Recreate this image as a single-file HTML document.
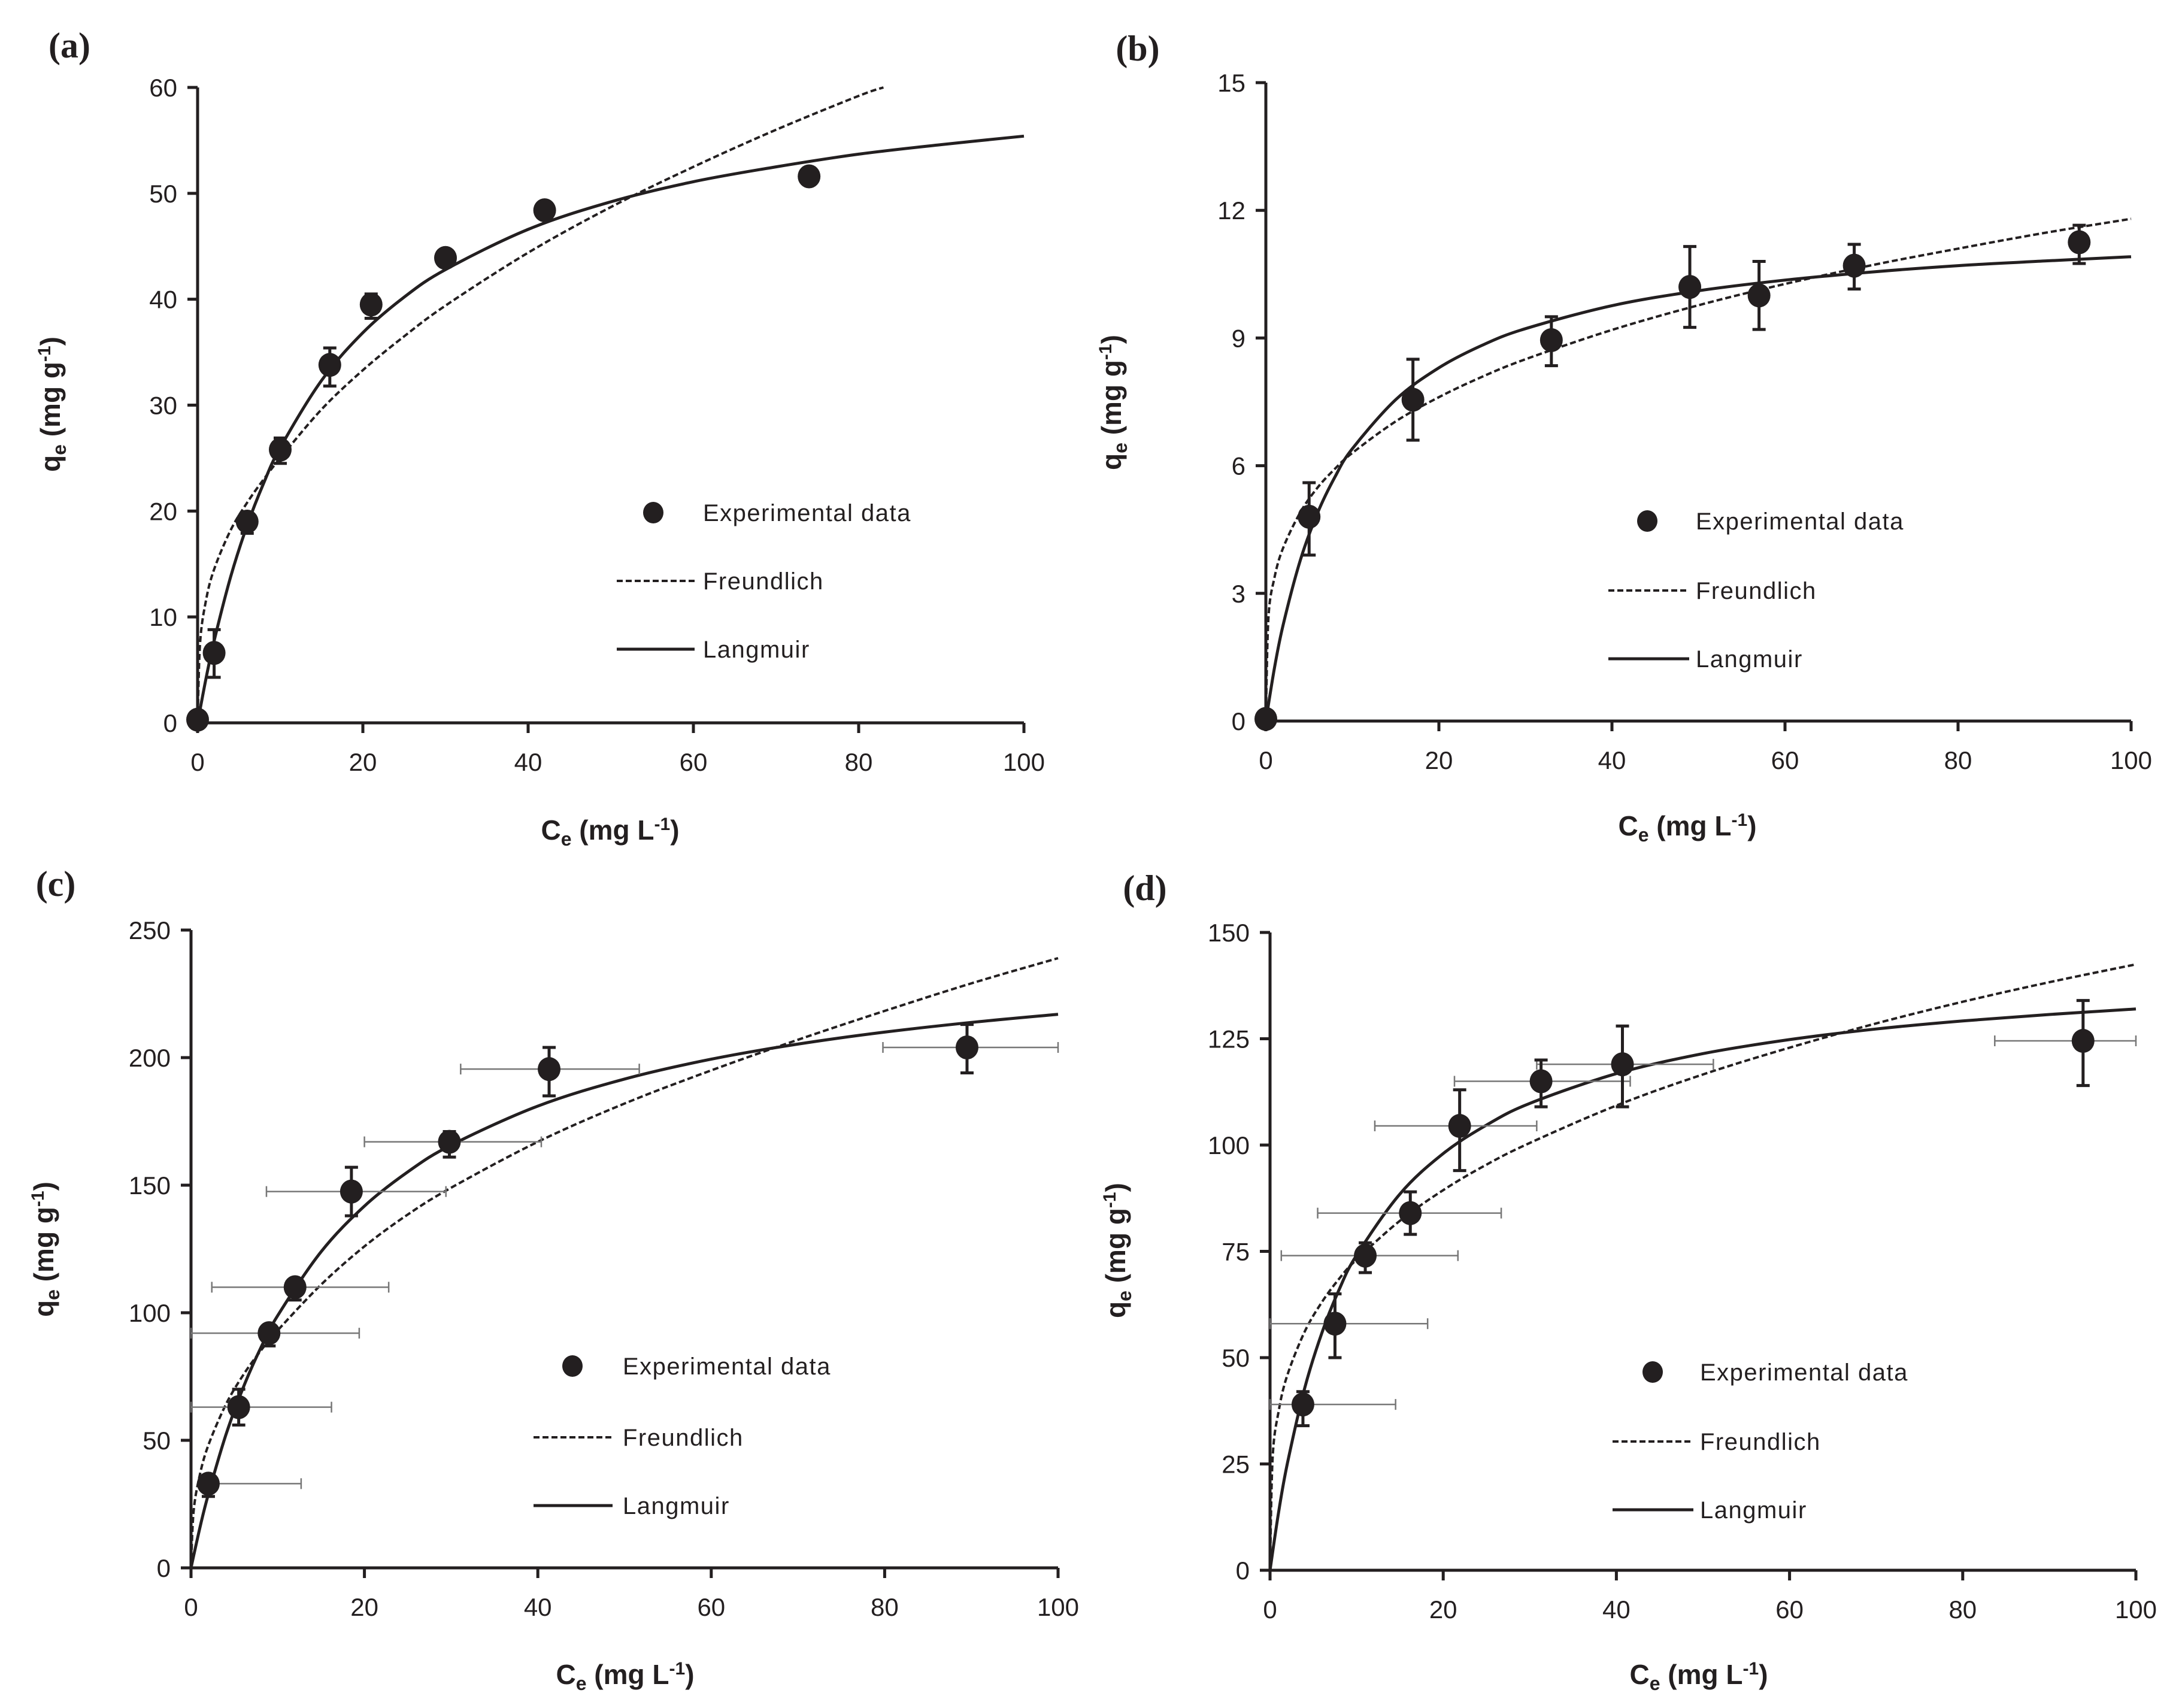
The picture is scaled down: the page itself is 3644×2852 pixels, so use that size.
<!DOCTYPE html>
<html><head><meta charset="utf-8"><style>
html,body{margin:0;padding:0;background:#fff;}
svg{display:block;}
text{font-family:"Liberation Sans",sans-serif;fill:#231f20;}
</style></head><body>
<svg id="fig" width="3644" height="2852" viewBox="0 0 3644 2852" xmlns="http://www.w3.org/2000/svg"></svg>
<script>
// ---------- data ----------
const xLang = [0,1,2,4,6,8,10,15,20,25,30,40,50,60,70,80,90,100];
const xFreu = [0,0.3,1,2,4,6,8,10,15,20,25,30,40,50,60,70,80,90,100];
const xFreuA = [0,0.3,1,2,4,6,8,10,15,20,25,30,40,50,60,70,80,83];

const aPtsX = [0,2,6,10,16,21,30,42,74];
const aPtsY = [0.3,6.6,19,25.8,33.8,39.5,43.9,48.4,51.6];
const aErrLo = [0.3,4.3,17.9,24.5,31.8,38.2,43.2,47.9,51.2];
const aErrHi = [0.3,8.8,19.8,26.9,35.4,40.5,44.5,48.9,52];
const aLang = [0,4.12,7.74,13.79,18.65,22.64,25.98,32.33,36.84,40.2,42.8,46.6,49.2,51.1,52.5,53.7,54.6,55.4];
const aFreu = [0,7.5,11.5,14.5,18.2,20.8,23.0,25.0,29.6,33.3,36.5,39.4,44.4,48.7,52.5,56.0,59.2,60];

const bPtsX = [0,5,17,33,49,57,68,94];
const bPtsY = [0.05,4.8,7.55,8.95,10.2,10.0,10.7,11.25];
const bErrLo = [0.05,3.9,6.6,8.35,9.25,9.2,10.15,10.75];
const bErrHi = [0.05,5.6,8.5,9.5,11.15,10.8,11.2,11.65];
const bLang = [0,1.25,2.26,3.79,4.90,5.74,6.40,7.55,8.30,8.83,9.22,9.76,10.11,10.36,10.55,10.70,10.81,10.91];
const bFreu = [0,2.42,3.37,4.07,4.91,5.49,5.93,6.30,7.04,7.61,8.09,8.50,9.19,9.77,10.27,10.71,11.10,11.47,11.8];

const cPtsX = [2,5.5,9,12,18.5,29.8,41.3,89.5];
const cPtsY = [33,63,92,110,147.5,167,195.5,204];
const cErrLo = [28,56,87,105,138,161,185,194];
const cErrHi = [36,70,95,113,157,171,204,213];
const cXLo = [2.1,0,0,2.4,8.7,20,31.1,79.8];
const cXHi = [12.7,16.2,19.4,22.8,29.4,40.4,51.7,100];
const cLang = [0,15.4,28.9,51.9,70.5,85.9,98.9,123.9,141.8,155.2,165.7,181.0,191.6,199.4,205.3,210.0,213.8,217];
const cFreu = [0,22.1,36.2,48.1,63.9,75.5,84.9,93.1,111,126,138.5,149,167,182,195,207,218.3,229.1,239];

const dPtsX = [3.8,7.5,11,16.2,21.9,31.3,40.7,93.9];
const dPtsY = [39,58,74,84,104.5,115,119,124.5];
const dErrLo = [34,50,70,79,94,109,109,114];
const dErrHi = [42,65,77,89,113,120,128,134];
const dXLo = [0,0,1.3,5.5,12.1,21.3,30.8,83.7];
const dXHi = [14.5,18.2,21.7,26.7,30.8,41.6,51.2,100];
const dLang = [0,13.8,25.1,42.8,55.9,66.1,74.1,88.5,98.0,104.7,109.8,116.8,121.5,124.8,127.3,129.2,130.7,132];
const dFreu = [0,26.4,37.5,45.9,56.1,63.1,68.6,73.1,82.2,89.4,95.4,100.5,109.3,116.6,122.9,128.6,133.7,138.3,142.5];

const xTicks = [0,20,40,60,80,100];
const aYTicks = [0,10,20,30,40,50,60];
const bYTicks = [0,3,6,9,12,15];
const cYTicks = [0,50,100,150,200,250];
const dYTicks = [0,25,50,75,100,125,150];

// ---------- drawing ----------
const NS = "http://www.w3.org/2000/svg";
const svg = document.getElementById('fig');
function mk(tag, attrs, parent){
  const e = document.createElementNS(NS, tag);
  for (const k in attrs) e.setAttribute(k, attrs[k]);
  (parent||svg).appendChild(e);
  return e;
}
function smoothPath(pts){
  let d = "M"+pts[0][0].toFixed(1)+","+pts[0][1].toFixed(1);
  for (let i=0;i<pts.length-1;i++){
    const p0=pts[Math.max(i-1,0)], p1=pts[i], p2=pts[i+1], p3=pts[Math.min(i+2,pts.length-1)];
    const c1x=p1[0]+(p2[0]-p0[0])/6, c1y=p1[1]+(p2[1]-p0[1])/6;
    const c2x=p2[0]-(p3[0]-p1[0])/6, c2y=p2[1]-(p3[1]-p1[1])/6;
    d += " C"+c1x.toFixed(1)+","+c1y.toFixed(1)+" "+c2x.toFixed(1)+","+c2y.toFixed(1)+" "+p2[0].toFixed(1)+","+p2[1].toFixed(1);
  }
  return d;
}

function panel(cfg){
  const g = mk('g',{});
  
  
  const X = v => cfg.x0 + (cfg.x1-cfg.x0)*v/100;
  const Y = v => cfg.y0 - (cfg.y0-cfg.y1)*v/cfg.ymax;

  const pl = mk('text',{x:cfg.lab[0],y:cfg.lab[1],style:'font-family:"Liberation Serif",serif;font-weight:bold;font-size:60px','text-anchor':'middle'},g);
  pl.textContent = '('+cfg.id+')';
  
  

  const ax = mk('path',{d:`M${cfg.x0},${cfg.y1} V${cfg.y0} H${cfg.x1}`,stroke:'#231f20','stroke-width':5,fill:'none'},g);
  
  
  cfg.yt.forEach(t=>{
    const y = Y(t);
    const tk = mk('line',{x1:cfg.x0-17,x2:cfg.x0,y1:y,y2:y,stroke:'#231f20','stroke-width':5},g);
    
    
    const tl = mk('text',{x:cfg.x0-34,y:y+15,'font-size':42,'text-anchor':'end'},g);
    tl.textContent = t;
    
    
  });
  xTicks.forEach(t=>{
    const x = X(t);
    const tk = mk('line',{x1:x,x2:x,y1:cfg.y0,y2:cfg.y0+17,stroke:'#231f20','stroke-width':5},g);
    
    
    const tl = mk('text',{x:x,y:cfg.y0+80,'font-size':42,'text-anchor':'middle'},g);
    tl.textContent = t;
    
    
  });

  const xt = mk('text',{x:cfg.xl[0],y:cfg.xl[1],'font-size':46,'font-weight':'bold','text-anchor':'middle'},g);
  xt.innerHTML = 'C<tspan font-size="32" dy="10">e</tspan><tspan dy="-10"> (mg L</tspan><tspan font-size="30" dy="-16">-1</tspan><tspan dy="16">)</tspan>';
  
  
  const yt = mk('text',{x:0,y:0,'font-size':46,'font-weight':'bold','text-anchor':'middle',transform:`translate(${cfg.yl[0]},${cfg.yl[1]}) rotate(-90)`},g);
  yt.innerHTML = 'q<tspan font-size="32" dy="10">e</tspan><tspan dy="-10"> (mg g</tspan><tspan font-size="30" dy="-16">-1</tspan><tspan dy="16">)</tspan>';
  
  

  const fpts = cfg.fx.map((v,i)=>[X(v),Y(cfg.freu[i])]);
  const fr = mk('path',{d:smoothPath(fpts),stroke:'#231f20','stroke-width':4,fill:'none','stroke-dasharray':'10,5'},g);
  
  
  const lpts = xLang.map((v,i)=>[X(v),Y(cfg.lang[i])]);
  const la = mk('path',{d:smoothPath(lpts),stroke:'#231f20','stroke-width':5,fill:'none'},g);
  
  

  if (cfg.xlo){
    cfg.px.forEach((v,i)=>{
      const y = Y(cfg.py[i]);
      const xa = X(cfg.xlo[i]), xb = X(cfg.xhi[i]);
      const eb = mk('path',{d:`M${xa},${y} H${xb} M${xa},${y-9} V${y+9} M${xb},${y-9} V${y+9}`,stroke:'#777','stroke-width':2.5,fill:'none'},g);
      
      
    });
  }
  cfg.px.forEach((v,i)=>{
    const x = X(v);
    const ya = Y(cfg.lo[i]), yb = Y(cfg.hi[i]);
    const eb = mk('path',{d:`M${x},${ya} V${yb} M${x-11},${ya} H${x+11} M${x-11},${yb} H${x+11}`,stroke:'#231f20','stroke-width':5,fill:'none'},g);
    
    
    const pt = mk('ellipse',{cx:x,cy:Y(cfg.py[i]),rx:19,ry:20,fill:'#231f20'},g);
    
    
  });

  const L = cfg.leg;
  const lg = mk('g',{},g);
  
  
  const ld = mk('ellipse',{cx:L.dot,cy:L.y[0],rx:17,ry:18,fill:'#231f20'},lg);
  
  
  const names = ['Experimental data','Freundlich','Langmuir'];
  names.forEach((n,i)=>{
    const t = mk('text',{x:L.tx,y:L.y[i]+14,'font-size':40,'letter-spacing':'1.5'},lg);
    t.textContent = n;
    
    
  });
  const l1 = mk('line',{x1:L.l0,x2:L.l1,y1:L.y[1],y2:L.y[1],stroke:'#231f20','stroke-width':4,'stroke-dasharray':'10,5'},lg);
  
  
  const l2 = mk('line',{x1:L.l0,x2:L.l1,y1:L.y[2],y2:L.y[2],stroke:'#231f20','stroke-width':5},lg);
  
  
}

panel({id:'a',x0:330,x1:1710,y0:1207,y1:146,ymax:60,yt:aYTicks,
  px:aPtsX,py:aPtsY,lo:aErrLo,hi:aErrHi,lang:aLang,freu:aFreu,fx:xFreuA,
  lab:[116,96],xl:[1019,1402],yl:[100,675],
  leg:{dot:1091,tx:1174,l0:1030,l1:1160,y:[856,970,1084]}});
panel({id:'b',x0:2114,x1:3559,y0:1204,y1:138,ymax:15,yt:bYTicks,
  px:bPtsX,py:bPtsY,lo:bErrLo,hi:bErrHi,lang:bLang,freu:bFreu,fx:xFreu,
  lab:[1900,101],xl:[2818,1395],yl:[1872,672],
  leg:{dot:2751,tx:2832,l0:2686,l1:2821,y:[870,986,1100]}});
panel({id:'c',x0:319,x1:1767,y0:2618,y1:1553,ymax:250,yt:cYTicks,
  px:cPtsX,py:cPtsY,lo:cErrLo,hi:cErrHi,xlo:cXLo,xhi:cXHi,lang:cLang,freu:cFreu,fx:xFreu,
  lab:[93,1496],xl:[1044,2812],yl:[89,2086],
  leg:{dot:956,tx:1040,l0:891,l1:1023,y:[2281,2400,2514]}});
panel({id:'d',x0:2121,x1:3567,y0:2622,y1:1557,ymax:150,yt:dYTicks,
  px:dPtsX,py:dPtsY,lo:dErrLo,hi:dErrHi,xlo:dXLo,xhi:dXHi,lang:dLang,freu:dFreu,fx:xFreu,
  lab:[1912,1503],xl:[2837,2812],yl:[1879,2088],
  leg:{dot:2760,tx:2839,l0:2693,l1:2828,y:[2291,2407,2521]}});
</script>
</body></html>
